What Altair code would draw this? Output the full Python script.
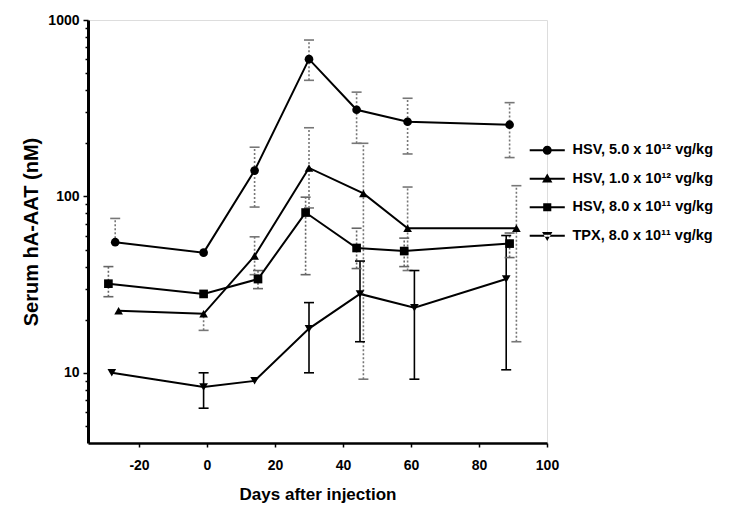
import altair as alt
import pandas as pd

# ---- data ----
series_names = [
    "HSV, 5.0 x 10¹² vg/kg",
    "HSV, 1.0 x 10¹² vg/kg",
    "HSV, 8.0 x 10¹¹ vg/kg",
    "TPX, 8.0 x 10¹¹ vg/kg",
]

days_s1 = [-27, -1, 14, 30, 44, 59, 89]
vals_s1 = [55, 48, 140, 600, 310, 265, 255]
lo_s1 = [55, 48, 87, 455, 200, 174, 166]
hi_s1 = [75, 48, 190, 770, 390, 360, 340]

days_s2 = [-26, -1, 14, 30, 46, 59, 91]
vals_s2 = [22.5, 21.6, 46, 145, 104, 66, 66]
lo_s2 = [22.5, 17.4, 36, 86, 9.2, 38, 15]
hi_s2 = [22.5, 21.6, 59, 245, 200, 113, 115]

days_s3 = [-29, -1, 15, 29, 44, 58, 89]
vals_s3 = [32, 28, 34, 81, 51, 49, 54]
lo_s3 = [27, 28, 30, 36, 39, 40, 45]
hi_s3 = [40, 28, 38, 99, 66, 58, 62]

days_s4 = [-28, -1, 14, 30, 45, 61, 88]
vals_s4 = [10, 8.3, 9.0, 17.8, 28, 23.4, 34]
lo_s4 = [10, 6.3, 9.0, 10, 15, 9.2, 10.4]
hi_s4 = [10, 10, 9.0, 25, 43, 38, 60]

x_ticks = [-20, 0, 20, 40, 60, 80, 100]
y_major = [10, 100, 1000]
y_ticks_all = [5, 6, 7, 8, 9, 10, 20, 30, 40, 50, 60, 70, 80, 90, 100,
               200, 300, 400, 500, 600, 700, 800, 900, 1000]

marker_shapes = ["circle", "triangle-up", "square", "triangle-down"]
bar = "M-3.9,-0.2H3.9V0.2H-3.9Z"
legend_paths = [
    bar + "M1,0A1,1 0 1,1 -1,0A1,1 0 1,1 1,0Z",
    bar + "M0,-1.15L1.15,0.85L-1.15,0.85Z",
    bar + "M-0.9,-0.9H0.9V0.9H-0.9Z",
    bar + "M0,1.15L1.15,-0.85L-1.15,-0.85Z",
]

rows = []
for name, d, v, lo, hi in [
    (series_names[0], days_s1, vals_s1, lo_s1, hi_s1),
    (series_names[1], days_s2, vals_s2, lo_s2, hi_s2),
    (series_names[2], days_s3, vals_s3, lo_s3, hi_s3),
    (series_names[3], days_s4, vals_s4, lo_s4, hi_s4),
]:
    for di, vi, li, hi_ in zip(d, v, lo, hi):
        rows.append({"series": name, "day": di, "value": vi, "lo": li, "hi": hi_})
df = pd.DataFrame(rows)

FONT = "Liberation Sans"
major_test = "indexof([10, 100, 1000], datum.value) >= 0"

x_scale = alt.Scale(domain=[-35, 100], nice=False, zero=False)
y_scale = alt.Scale(type="log", domain=[4, 1000], nice=False)

x_axis = alt.Axis(values=x_ticks, title="Days after injection", grid=False,
                  domainWidth=2.5, domainColor="black", tickColor="black",
                  tickSize=4, tickWidth=1.5, labelPadding=11,
                  labelExpr="'' + datum.value",
                  labelFontSize=14, labelFont=FONT, labelFontWeight="bold",
                  labelColor="black", titleFont=FONT, titleFontSize=17,
                  titleFontWeight="bold", titleColor="black", titlePadding=14,
                  labelFlush=False)
y_axis = alt.Axis(values=y_ticks_all, title="Serum hA-AAT (nM)", grid=False,
                  domainWidth=3, domainColor="black", tickColor="black",
                  tickSize={"condition": {"test": major_test, "value": 5}, "value": 3},
                  tickWidth=1.5, labelPadding=4,
                  labelExpr=f"{major_test} ? format(datum.value, 'd') : ''",
                  labelFontSize=14, labelFont=FONT, labelFontWeight="bold",
                  labelColor="black", titleFont=FONT, titleFontSize=20,
                  titleFontWeight="bold", titleColor="black", titlePadding=6,
                  labelFlush=False, labelOverlap=False)

X = alt.X("day:Q", scale=x_scale, axis=x_axis)


def Y(field):
    return alt.Y(f"{field}:Q", scale=y_scale, axis=y_axis)


base = alt.Chart(df)

err_color = alt.Color("series:N", scale=alt.Scale(domain=series_names,
                      range=["#777777", "#777777", "#666666", "#000000"]), legend=None)
err_dash = alt.StrokeDash("series:N", scale=alt.Scale(domain=series_names,
                          range=[[2, 2], [2, 2], [2, 2], [1, 0]]), legend=None)

err_rules = base.transform_filter("datum.hi > datum.lo").mark_rule(strokeWidth=1.6).encode(
    x=X, y=Y("lo"), y2="hi:Q", color=err_color, strokeDash=err_dash,
)
cap_lo = base.transform_filter("datum.lo < datum.value").mark_tick(
    orient="horizontal", size=10, thickness=1.6, opacity=1).encode(
    x=X, y=Y("lo"), color=err_color,
)
cap_hi = base.transform_filter("datum.hi > datum.value").mark_tick(
    orient="horizontal", size=10, thickness=1.6, opacity=1).encode(
    x=X, y=Y("hi"), color=err_color,
)

lines = base.mark_line(color="black", strokeWidth=2).encode(
    x=X, y=Y("value"), detail="series:N",
)

points = base.mark_point(filled=True, color="black", opacity=1, size=75).encode(
    x=X, y=Y("value"),
    shape=alt.Shape("series:N", scale=alt.Scale(domain=series_names, range=marker_shapes),
                    legend=None),
)

legend_layer = base.mark_point(filled=True, fill="black", stroke="black",
                               strokeWidth=0, opacity=1, size=0).encode(
    x=X, y=Y("value"),
    shape=alt.Shape("series:N", scale=alt.Scale(domain=series_names, range=legend_paths),
                    legend=alt.Legend(title=None, orient="none", legendX=452, legendY=123,
                                      symbolSize=81, symbolFillColor="black",
                                      symbolStrokeWidth=0,
                                      labelOffset=18, labelFont=FONT, labelFontSize=14.5,
                                      labelFontWeight="bold", labelColor="black",
                                      rowPadding=13.5, padding=0, labelLimit=300)),
)

chart = alt.layer(err_rules, cap_lo, cap_hi, lines, points, legend_layer).resolve_scale(
    shape="independent"
).properties(
    width=459, height=423,
    autosize=alt.AutoSizeParams(type="none"),
    padding={"left": 80, "top": 12, "right": 174, "bottom": 62},
).configure_view(strokeWidth=0).configure(background="white")

chart.save("out.html", embed_options={"renderer": "svg", "actions": False})
